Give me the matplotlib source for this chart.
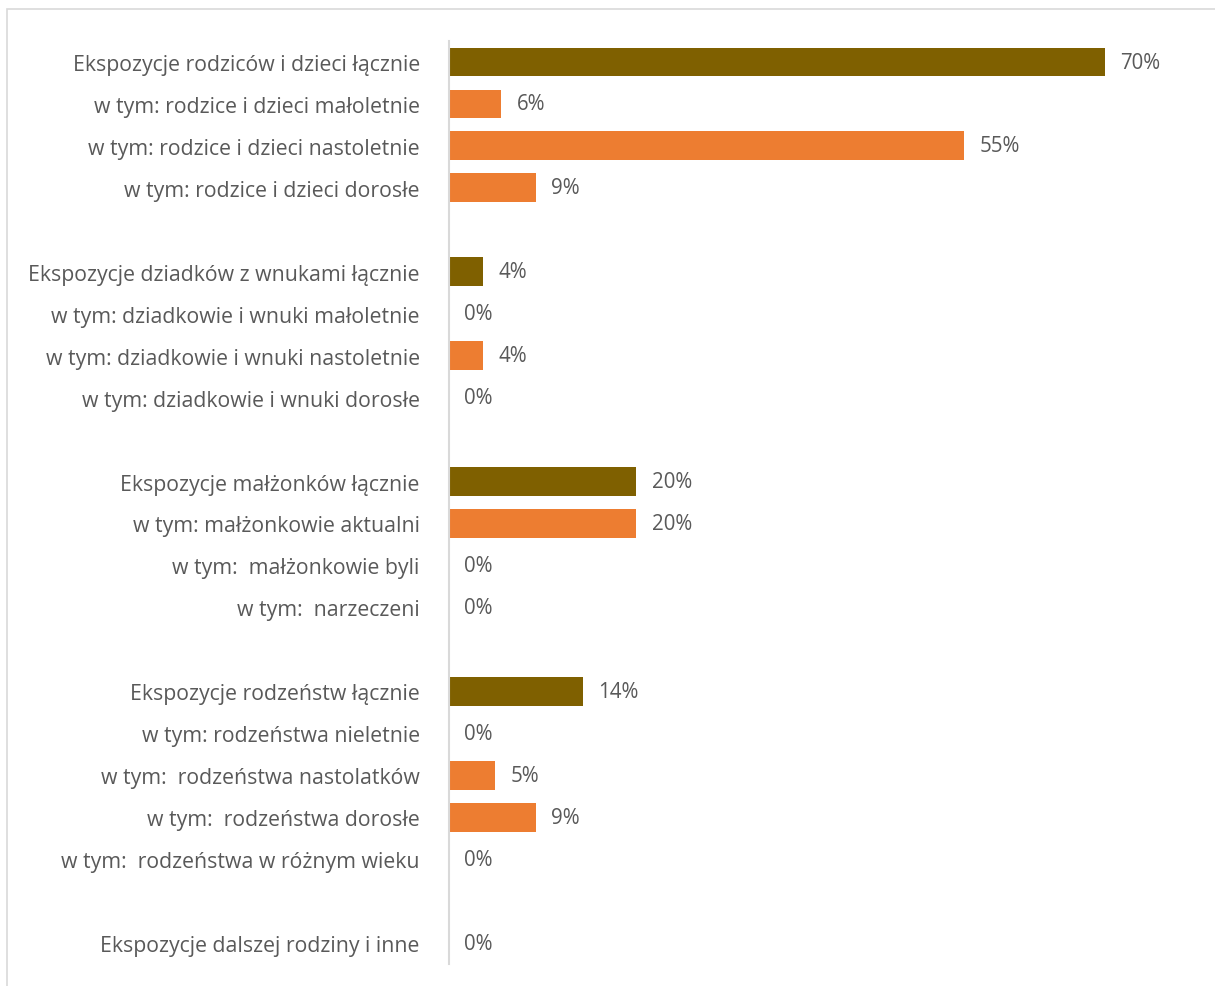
import matplotlib.pyplot as plt
from matplotlib.patches import Rectangle

# kategorie (None = pusty wiersz odstępu)
labels = [
    "Ekspozycje rodziców i dzieci łącznie",
    "w tym: rodzice i dzieci małoletnie",
    "w tym: rodzice i dzieci nastoletnie",
    "w tym: rodzice i dzieci dorosłe",
    None,
    "Ekspozycje dziadków z wnukami łącznie",
    "w tym: dziadkowie i wnuki małoletnie",
    "w tym: dziadkowie i wnuki nastoletnie",
    "w tym: dziadkowie i wnuki dorosłe",
    None,
    "Ekspozycje małżonków łącznie",
    "w tym: małżonkowie aktualni",
    "w tym:  małżonkowie byli",
    "w tym:  narzeczeni",
    None,
    "Ekspozycje rodzeństw łącznie",
    "w tym: rodzeństwa nieletnie",
    "w tym:  rodzeństwa nastolatków",
    "w tym:  rodzeństwa dorosłe",
    "w tym:  rodzeństwa w różnym wieku",
    None,
    "Ekspozycje dalszej rodziny i inne",
]
values = [70.0, 5.6, 55.0, 9.3, None,
          3.6, 0.0, 3.6, 0.0, None,
          20.0, 20.0, 0.0, 0.0, None,
          14.3, 0.0, 4.9, 9.3, 0.0, None,
          0.0]
is_total = [True, False, False, False, None,
            True, False, False, False, None,
            True, False, False, False, None,
            True, False, False, False, False, None,
            True]

DARK = "#7F6000"
ORANGE = "#ED7D31"
TXT = "#595959"

plt.rcParams['font.family'] = ['Open Sans', 'DejaVu Sans']

fig = plt.figure(figsize=(12.15, 9.87), dpi=100)
fig.patches.append(Rectangle((7 / 1215, -0.1), 1.2, 1 - 10 / 987 + 0.1,
                             transform=fig.transFigure, fill=False,
                             edgecolor="#D9D9D9", linewidth=1.2))

ax = fig.add_axes([449 / 1215, 0.0223, (1200 - 449) / 1215, 0.9574 - 0.0223])

for i, (lab, v, tot) in enumerate(zip(labels, values, is_total)):
    if lab is None:
        continue
    if v > 0:
        ax.barh(i, v, height=0.69, color=DARK if tot else ORANGE)
    ax.annotate(f"{v:.0f}%", (v, i), xytext=(11, 0), textcoords="offset points",
                va="center", ha="left", fontsize=14.8, color=TXT)

ax.set_ylim(len(labels) - 0.5, -0.5)
ax.set_xlim(0, (1200 - 449) / 9.37)
ticks = [i for i, lab in enumerate(labels) if lab is not None]
ax.set_yticks(ticks)
ax.set_yticklabels([labels[i] for i in ticks], fontsize=15.3, color=TXT)
ax.tick_params(axis="y", length=0, pad=21)
ax.set_xticks([])
for s in ["top", "right", "bottom"]:
    ax.spines[s].set_visible(False)
ax.spines["left"].set_color("#D9D9D9")
ax.spines["left"].set_linewidth(1.5)

fig.savefig("out.png", dpi=100)
